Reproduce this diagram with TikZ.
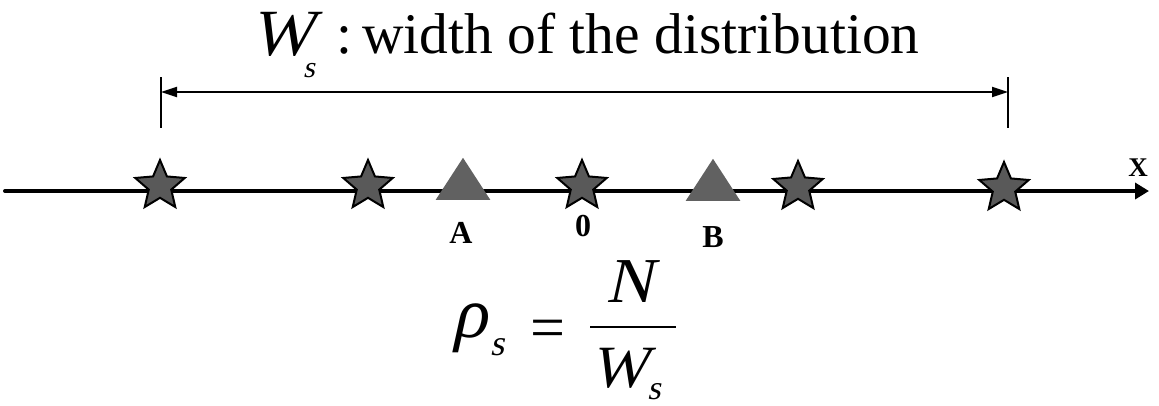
\documentclass[tikz,border=0pt]{standalone}
\usepackage{fontspec}
\setmainfont{Liberation Serif}
\newfontfamily\slantfont{Liberation Serif}[FakeSlant=0.22]
\usetikzlibrary{shapes.geometric,arrows.meta}
\begin{document}
\begin{tikzpicture}[x=1pt,y=-1pt,
  starmark/.style={star,star points=5,star point ratio=2.2,minimum size=52pt,inner sep=0pt,fill=black!65,draw=black,line width=2pt},
  trimark/.style={isosceles triangle,isosceles triangle apex angle=66,shape border rotate=90,minimum height=42pt,minimum width=47pt,inner sep=0pt,fill=black!62},
  lbl/.style={font=\bfseries\fontsize{32}{32}\selectfont,inner sep=0pt},
  bigtxt/.style={font=\fontsize{57.5}{58}\selectfont,inner sep=0pt},
  subtxt/.style={font=\slantfont\fontsize{32}{32}\selectfont,inner sep=0pt,anchor=base}]
\useasboundingbox (0,0) rectangle (1159,405);
% axis
\coordinate (L) at (5,191);
\coordinate (R) at (1149,191);
\draw[line width=4pt,line cap=round,-{Triangle[length=14pt,width=16pt]}] (L) -- (R);
\node[lbl,font=\bfseries\fontsize{27}{27}\selectfont] (X) at (1138,168) {X};
% stars
\node[starmark] (s1) at (160,186) {};
\node[starmark] (s2) at (368,186) {};
\node[starmark] (s3) at (582,186) {};
\node[starmark] (s4) at (798,187) {};
\node[starmark] (s5) at (1004,188) {};
% triangles
\node[trimark,anchor=south] (tA) at (463,200) {};
\node[trimark,anchor=south] (tB) at (713,201) {};
\node[lbl] (A) at (461,233) {A};
\node[lbl] (O) at (583,226) {0};
\node[lbl] (B) at (713,237) {B};
% dimension
\coordinate (v1t) at (161,77);
\coordinate (v1b) at (161,128);
\coordinate (v2t) at (1008,77);
\coordinate (v2b) at (1008,128);
\draw[line width=1.5pt] (v1t) -- (v1b);
\draw[line width=1.5pt] (v2t) -- (v2b);
\coordinate (d1) at (161,92);
\coordinate (d2) at (1008,92);
\draw[line width=1.8pt,{Triangle[length=16pt,width=10pt]}-{Triangle[length=16pt,width=10pt]}] (d1) -- (d2);
% title
\node[font=\slantfont\fontsize{66}{66}\selectfont,inner sep=0pt,anchor=base] (Wt) at (283,55) {W};
\node[subtxt,font=\slantfont\fontsize{30}{30}\selectfont] (st) at (309,77) {s};
\node[bigtxt,anchor=base west] (colon) at (336,53) {:};
\node[bigtxt,anchor=base west] (title) at (362,53) {width of the distribution};
% formula
\node[font=\slantfont\fontsize{72}{72}\selectfont,inner sep=0pt,anchor=base] (rho) at (469,337) {ρ};
\node[subtxt,font=\slantfont\fontsize{36}{36}\selectfont] (rs) at (497,355) {s};
\node[font=\fontsize{62}{62}\selectfont,inner sep=0pt,anchor=base] (eq) at (548,348) {=};
\node[font=\slantfont\fontsize{64}{64}\selectfont,inner sep=0pt,anchor=base] (N) at (630,302) {N};
\coordinate (f1) at (590,327);
\coordinate (f2) at (676,327);
\draw[line width=2.2pt] (f1) -- (f2);
\node[font=\slantfont\fontsize{60}{60}\selectfont,inner sep=0pt,anchor=base] (Wb) at (620,387) {W};
\node[subtxt,font=\slantfont\fontsize{34}{34}\selectfont] (sb) at (654,399) {s};
\end{tikzpicture}
\end{document}
